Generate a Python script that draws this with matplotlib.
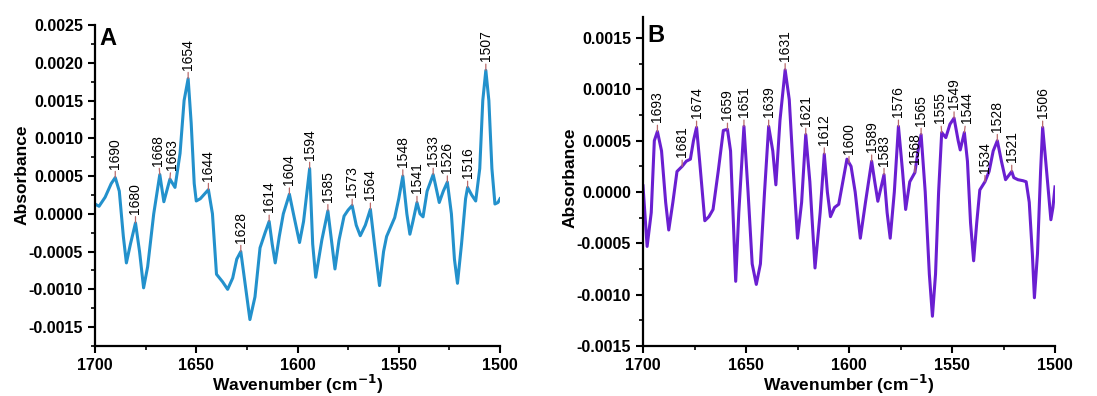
import numpy as np
import matplotlib
matplotlib.use("Agg")
import matplotlib.pyplot as plt
from matplotlib.ticker import MultipleLocator, FormatStrFormatter

plt.rcParams['font.family'] = ['Liberation Sans', 'DejaVu Sans']

# --- Panel A spectrum (wavenumber, absorbance) ---
wn_a = [1700, 1698, 1695, 1692, 1690, 1688, 1686, 1684.5, 1682.5, 1680,
        1678, 1676, 1674, 1671, 1668, 1666, 1663, 1660.5, 1658, 1656,
        1654, 1652.5, 1651, 1650, 1648, 1646, 1644, 1642, 1640, 1637,
        1634.5, 1632, 1630, 1628, 1626, 1623.5, 1621, 1618.5, 1616, 1614,
        1612.5, 1611, 1609, 1607, 1604, 1602, 1599, 1597, 1594, 1592.5,
        1591, 1588, 1585, 1583, 1581.5, 1579.5, 1577, 1575, 1573, 1571,
        1569, 1566.5, 1564, 1562, 1559.5, 1557.5, 1556, 1552, 1550, 1548,
        1546, 1544.5, 1543, 1541, 1539.5, 1538, 1536, 1533, 1532, 1530,
        1528, 1526, 1524, 1522.5, 1521, 1519, 1517, 1516, 1514, 1512,
        1510, 1508.5, 1507, 1505.5, 1504, 1502.5, 1501, 1500]
abs_a = [0.00013, 0.00010, 0.00022, 0.00040, 0.00048, 0.00030, -0.00030, -0.00065, -0.00040, -0.00012,
         -0.00050, -0.00098, -0.00070, 0.00000, 0.00052, 0.00016, 0.00046, 0.00035, 0.00080, 0.00150,
         0.00179, 0.00120, 0.00040, 0.00017, 0.00020, 0.00026, 0.00032, 0.00000, -0.00080, -0.00090,
         -0.00100, -0.00085, -0.00060, -0.00050, -0.00090, -0.00140, -0.00110, -0.00045, -0.00025, -0.00010,
         -0.00040, -0.00065, -0.00030, 0.00000, 0.00026, 0.00000, -0.00038, -0.00010, 0.00060, -0.00040,
         -0.00084, -0.00035, 0.00004, -0.00040, -0.00073, -0.00035, -0.00003, 0.00005, 0.00011, -0.00015,
         -0.00029, -0.00015, 0.00006, -0.00040, -0.00095, -0.00050, -0.00030, -0.00005, 0.00020, 0.00050,
         0.00000, -0.00027, -0.00010, 0.00015, 0.00000, -0.00004, 0.00030, 0.00052, 0.00040, 0.00015,
         0.00030, 0.00042, 0.00000, -0.00060, -0.00092, -0.00040, 0.00020, 0.00035, 0.00025, 0.00017,
         0.00060, 0.00150, 0.00190, 0.00150, 0.00060, 0.00013, 0.00015, 0.00020]
peaks_a = [1690, 1680, 1668, 1663, 1654, 1644, 1628, 1614, 1604, 1594,
           1585, 1573, 1564, 1548, 1541, 1533, 1526, 1516, 1507]

# --- Panel B spectrum ---
wn_b = [1700, 1698, 1696, 1694.5, 1693, 1691, 1689, 1687.5, 1685.5, 1683.5,
        1681, 1679, 1677, 1675.5, 1674, 1672.5, 1670, 1668, 1666, 1663.5,
        1661, 1659, 1657.5, 1655, 1653.5, 1651, 1649, 1647, 1645, 1643,
        1641, 1639, 1637, 1635.5, 1633.5, 1631, 1629, 1627, 1625, 1623,
        1621, 1619, 1616.5, 1614, 1612, 1610.5, 1609, 1607, 1605, 1603,
        1601, 1599, 1597, 1594.5, 1592, 1589, 1587.5, 1586, 1583, 1581.5,
        1580, 1578, 1576, 1574, 1572.5, 1570.5, 1568, 1566.5, 1565, 1563,
        1561, 1559.5, 1558, 1556.5, 1555, 1553, 1551, 1549, 1547, 1546,
        1544, 1542.5, 1541, 1539.5, 1538, 1536.5, 1534, 1532, 1530, 1528,
        1526, 1524, 1521, 1520, 1518, 1515.5, 1514, 1512.5, 1511, 1510,
        1508.5, 1507, 1506, 1504.5, 1502, 1501, 1500]
abs_b = [0.00006, -0.00053, -0.00020, 0.00050, 0.00059, 0.00040, -0.00010, -0.00037, -0.00010, 0.00020,
         0.00025, 0.00030, 0.00032, 0.00050, 0.00063, 0.00030, -0.00028, -0.00024, -0.00017, 0.00020,
         0.00060, 0.00061, 0.00040, -0.00087, -0.00020, 0.00064, 0.00000, -0.00070, -0.00090, -0.00070,
         0.00000, 0.00064, 0.00040, 0.00007, 0.00070, 0.00119, 0.00090, 0.00020, -0.00045, -0.00010,
         0.00056, 0.00010, -0.00074, -0.00020, 0.00037, 0.00000, -0.00024, -0.00015, -0.00012, 0.00010,
         0.00032, 0.00025, 0.00000, -0.00045, -0.00010, 0.00030, 0.00010, -0.00009, 0.00017, -0.00020,
         -0.00045, 0.00000, 0.00064, 0.00020, -0.00017, 0.00010, 0.00019, 0.00040, 0.00056, 0.00000,
         -0.00080, -0.00121, -0.00080, 0.00000, 0.00058, 0.00053, 0.00066, 0.00072, 0.00050, 0.00041,
         0.00058, 0.00030, -0.00030, -0.00067, -0.00030, 0.00002, 0.00010, 0.00020, 0.00040, 0.00050,
         0.00030, 0.00012, 0.00020, 0.00014, 0.00012, 0.00011, 0.00010, -0.00010, -0.00060, -0.00103,
         -0.00060, 0.00020, 0.00063, 0.00030, -0.00027, -0.00015, 0.00005]
peaks_b = [1693, 1681, 1674, 1659, 1651, 1639, 1631, 1621, 1612, 1600, 1589,
           1583, 1576, 1568, 1565, 1555, 1549, 1544, 1534, 1528, 1521, 1506]

# small sideways nudges (pixels) for labels that sit very close together
nudge = {1668: -2, 1663: 2, 1555: -2, 1549: 0, 1544: 3}

W, H = 1097, 396
fig = plt.figure(figsize=(W / 100, H / 100), dpi=100)


def px_axes(left, right, top, bottom):
    return fig.add_axes([left / W, 1 - bottom / H, (right - left) / W, (bottom - top) / H])


def style(ax, ylim, letter, letter_y):
    ax.set_xlim(1700, 1500)
    ax.set_ylim(*ylim)
    for s in ['top', 'right']:
        ax.spines[s].set_visible(False)
    for s in ['left', 'bottom']:
        ax.spines[s].set_linewidth(1.6)
    ax.xaxis.set_major_locator(MultipleLocator(50))
    ax.xaxis.set_minor_locator(MultipleLocator(25))
    ax.yaxis.set_major_locator(MultipleLocator(0.0005))
    ax.yaxis.set_minor_locator(MultipleLocator(0.00025))
    ax.yaxis.set_major_formatter(FormatStrFormatter('%.4f'))
    ax.tick_params(which='major', direction='out', length=5, width=1.5, labelsize=11.5)
    ax.tick_params(which='minor', direction='out', length=3, width=1.2)
    for lab in ax.get_xticklabels() + ax.get_yticklabels():
        lab.set_fontweight('bold')
    ax.text(0.01, letter_y, letter, transform=ax.transAxes, fontsize=17,
            fontweight='bold', ha='left', va='top')
    ax.set_xlabel('Wavenumber (cm$^{\\mathbf{-1}}$)', fontsize=12.5, fontweight='bold', labelpad=0)


def label_peaks(ax, wn, ab, peaks):
    order = np.argsort(wn)
    xs = np.array(wn)[order]
    ys = np.array(ab)[order]
    for p in peaks:
        yv = np.interp(p, xs, ys)
        dx = nudge.get(p, 0)
        ax.annotate(str(p), xy=(p, yv), xytext=(dx, 9), textcoords='offset pixels',
                    rotation=90, ha='center', va='bottom', fontsize=10,
                    arrowprops=dict(arrowstyle='-', color='#b86a6a', lw=0.9,
                                    shrinkA=0, shrinkB=0))


ax_a = px_axes(95, 500, 25, 346)
ax_a.plot(wn_a, abs_a, color='#2391cc', lw=2.2, solid_joinstyle='round')
style(ax_a, (-0.00175, 0.0025), 'A', 0.995)
label_peaks(ax_a, wn_a, abs_a, peaks_a)

ax_b = px_axes(643, 1055, 17.5, 346)
ax_b.plot(wn_b, abs_b, color='#6a1fd1', lw=2.2, solid_joinstyle='round')
style(ax_b, (-0.0015, 0.0017), 'B', 0.98)
label_peaks(ax_b, wn_b, abs_b, peaks_b)

fig.text(22 / W, 1 - 175 / H, 'Absorbance', rotation=90, ha='center', va='center',
         fontsize=12.5, fontweight='bold')
fig.text(570 / W, 1 - 178 / H, 'Absorbance', rotation=90, ha='center', va='center',
         fontsize=12.5, fontweight='bold')

fig.savefig('out.png', dpi=100)
